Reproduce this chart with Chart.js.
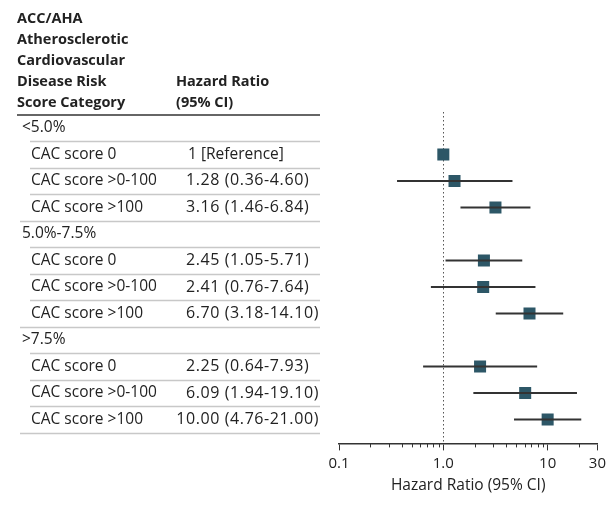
<!DOCTYPE html>
<html>
<head>
<meta charset="utf-8">
<script src="https://cdn.jsdelivr.net/npm/chart.js@4"></script>
<style>
  html, body { margin: 0; padding: 0; background: #fff; }
  #wrap { width: 610px; height: 514px; }
</style>
</head>
<body>
<div id="wrap"><canvas id="forest"></canvas></div>
<script>
const groups = ['<5.0%', '5.0%-7.5%', '>7.5%'];
const subgroups = ['CAC score 0', 'CAC score >0-100', 'CAC score >100'];
const hazardRatios = [1, 1.28, 3.16, 2.45, 2.41, 6.70, 2.25, 6.09, 10.00];
const ciLow = [null, 0.36, 1.46, 1.05, 0.76, 3.18, 0.64, 1.94, 4.76];
const ciHigh = [null, 4.60, 6.84, 5.71, 7.64, 14.10, 7.93, 19.10, 21.00];
const hrLabels = ['1 [Reference]', '1.28 (0.36-4.60)', '3.16 (1.46-6.84)',
    '2.45 (1.05-5.71)', '2.41 (0.76-7.64)', '6.70 (3.18-14.10)',
    '2.25 (0.64-7.93)', '6.09 (1.94-19.10)', '10.00 (4.76-21.00)'];
const xTicks = [0.1, 1, 10, 30];
const xTickLabels = ['0.1', '1.0', '10', '30'];
const minorTicks = [0.2, 0.3, 0.4, 0.5, 0.6, 0.7, 0.8, 0.9, 2, 3, 4, 5, 6, 7, 8, 9, 20];
const headerLeft = ['ACC/AHA', 'Atherosclerotic', 'Cardiovascular', 'Disease Risk', 'Score Category'];
const headerRight = ['Hazard Ratio', '(95% CI)'];

const FONT = '"Open Sans", sans-serif';
const TEXT = '#222';
const BOX = '#2d5767';

// row index: group header at 0,4,8 ; subgroup rows after it
function rowOf(i) {
    return Math.floor(i / 3) * 4 + (i % 3) + 1;
}

const whiskers = hazardRatios.map((v, i) => ({
    type: 'line',
    data: ciLow[i] == null ? [] : [{ x: ciLow[i], y: rowOf(i) }, { x: ciHigh[i], y: rowOf(i) }],
    borderColor: '#333',
    borderWidth: 2,
    pointRadius: 0,
    fill: false
}));

const points = {
    type: 'scatter',
    data: hazardRatios.map((v, i) => ({ x: v, y: rowOf(i) })),
    backgroundColor: BOX,
    borderColor: BOX,
    borderWidth: 0,
    pointStyle: 'rect',
    pointRadius: 8.5
};

const tablePlugin = {
    id: 'table',
    beforeDatasetsDraw(chart) {
        const ctx = chart.ctx;
        const x = chart.scales.x;
        const area = chart.chartArea;
        ctx.save();
        // reference line at 1
        ctx.strokeStyle = '#555';
        ctx.lineWidth = 1;
        ctx.setLineDash([1.5, 2.5]);
        const x1 = Math.round(x.getPixelForValue(1)) + 0.5;
        ctx.beginPath();
        ctx.moveTo(x1, area.top);
        ctx.lineTo(x1, area.bottom);
        ctx.stroke();
        ctx.restore();
    },
    afterDraw(chart) {
        const ctx = chart.ctx;
        const x = chart.scales.x, y = chart.scales.y;
        const area = chart.chartArea;
        ctx.save();
        // minor ticks
        ctx.strokeStyle = '#333';
        ctx.lineWidth = 1;
        minorTicks.forEach(v => {
            const px = Math.round(x.getPixelForValue(v)) + 0.5;
            ctx.beginPath();
            ctx.moveTo(px, area.bottom);
            ctx.lineTo(px, area.bottom + 4);
            ctx.stroke();
        });

        // header
        ctx.fillStyle = TEXT;
        ctx.textBaseline = 'middle';
        ctx.textAlign = 'left';
        ctx.font = 'bold 14.5px ' + FONT;
        headerLeft.forEach((t, i) => ctx.fillText(t, 17, 19 + i * 21));
        headerRight.forEach((t, i) => ctx.fillText(t, 176, 82 + i * 21));
        ctx.strokeStyle = '#333';
        ctx.lineWidth = 1.5;
        ctx.beginPath();
        ctx.moveTo(17, 115);
        ctx.lineTo(320, 115);
        ctx.stroke();

        // rows
        const step = Math.abs(y.getPixelForValue(1) - y.getPixelForValue(0));
        ctx.strokeStyle = '#c8c8c8';
        ctx.lineWidth = 1.5;
        groups.forEach((g, gi) => {
            const r = gi * 4;
            ctx.font = '15.5px ' + FONT;
            ctx.letterSpacing = '0px';
            ctx.fillText(g, 22, y.getPixelForValue(r));
            subgroups.forEach((s, si) => {
                const i = gi * 3 + si;
                const py = y.getPixelForValue(rowOf(i));
                ctx.font = '15.5px ' + FONT;
                ctx.letterSpacing = '0px';
                ctx.fillText(s, 31, py);
                const lab = hrLabels[i];
                const cut = lab.indexOf(' (');
                if (cut < 0) {
                    ctx.fillText(lab, 188, py);
                } else {
                    ctx.font = '16px ' + FONT;
                    ctx.letterSpacing = '0.6px';
                    ctx.textAlign = 'right';
                    ctx.fillText(lab.slice(0, cut), 220, py);
                    ctx.textAlign = 'left';
                    ctx.fillText(lab.slice(cut), 220, py);
                }
            });
            // separators
            for (let k = 0; k < 4; k++) {
                const ly = Math.round(y.getPixelForValue(r + k) + step / 2) + 0.5;
                ctx.beginPath();
                ctx.moveTo(k === 3 ? 20 : 30, ly);
                ctx.lineTo(320, ly);
                ctx.stroke();
            }
        });
        ctx.restore();
    }
};

new Chart(document.getElementById('forest'), {
    type: 'scatter',
    data: { datasets: [...whiskers, points] },
    plugins: [tablePlugin],
    options: {
        responsive: true,
        maintainAspectRatio: false,
        animation: false,
        events: [],
        layout: { padding: { left: 339, right: 3, top: 112, bottom: 19 } },
        plugins: {
            legend: { display: false },
            tooltip: { enabled: false }
        },
        scales: {
            x: {
                type: 'logarithmic',
                min: 0.1,
                max: 30,
                afterBuildTicks: scale => { scale.ticks = xTicks.map(v => ({ value: v })); },
                ticks: {
                    autoSkip: false,
                    maxRotation: 0,
                    padding: 4,
                    color: TEXT,
                    font: { family: FONT, size: 15 },
                    callback: (v) => xTickLabels[xTicks.indexOf(v)] ?? ''
                },
                grid: { drawOnChartArea: false, tickLength: 7, tickColor: '#333', tickWidth: 1 },
                border: { display: true, color: '#333', width: 1.5 },
                title: {
                    display: true,
                    text: 'Hazard Ratio (95% CI)',
                    color: TEXT,
                    font: { family: FONT, size: 15.5 },
                    padding: { top: 0, bottom: 0 }
                }
            },
            y: {
                type: 'linear',
                reverse: true,
                min: -0.6,
                max: 11.9,
                display: false
            }
        }
    }
});
</script>
</body>
</html>
